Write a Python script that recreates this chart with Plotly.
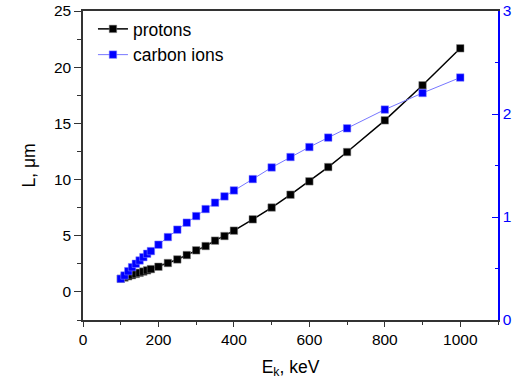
import plotly.graph_objects as go

# Data
energy_p = [100, 110, 120, 130, 140, 150, 160, 170, 180, 200, 225, 250, 275, 300, 325, 350,
            375, 400, 450, 500, 550, 600, 650, 700, 800, 900, 1000]
range_protons = [1.17, 1.28, 1.39, 1.49, 1.60, 1.70, 1.81, 1.92, 2.03, 2.24, 2.57, 2.89, 3.28,
                 3.70, 4.08, 4.56, 4.97, 5.45, 6.46, 7.51, 8.65, 9.84, 11.11, 12.45, 15.27,
                 18.39, 21.68]
energy_c = [100, 110, 120, 130, 140, 150, 160, 170, 180, 200, 225, 250, 275, 300, 325, 350,
            375, 400, 450, 500, 550, 600, 650, 700, 800, 900, 1000]
range_carbon = [0.40, 0.432, 0.474, 0.513, 0.546, 0.578, 0.610, 0.643, 0.669, 0.731, 0.805,
                0.877, 0.945, 1.009, 1.077, 1.139, 1.200, 1.258, 1.368, 1.481, 1.582, 1.679,
                1.771, 1.861, 2.043, 2.204, 2.354]

FONT = "Liberation Sans, Arial, sans-serif"
AX = "#333333"
BLUE = "#0000ff"

fig = go.Figure()
fig.add_trace(go.Scatter(
    x=energy_p, y=range_protons, name="protons", mode="lines+markers",
    line=dict(color="black", width=1.5),
    marker=dict(symbol="square", size=7.5, color="black", line=dict(color="#888888", width=0.5)),
))
fig.add_trace(go.Scatter(
    x=energy_c, y=range_carbon, name="carbon ions", mode="lines+markers", yaxis="y2",
    line=dict(color="#7777ff", width=1),
    marker=dict(symbol="square", size=7.5, color=BLUE, line=dict(color="#8888ff", width=0.5)),
))

fig.update_layout(
    width=526, height=387,
    margin=dict(l=83, r=28, t=11, b=67),
    paper_bgcolor="white", plot_bgcolor="white",
    font=dict(family=FONT, size=15, color="black"),
    showlegend=True,
    legend=dict(x=0.024, y=1.0, xanchor="left", yanchor="top",
                bgcolor="rgba(0,0,0,0)", font=dict(size=17.5, family=FONT),
                tracegroupgap=0),
    xaxis=dict(
        range=[0, 1100], dtick=200, tick0=0, automargin=False,
        showline=True, linecolor=AX, linewidth=1.5, mirror=True,
        ticks="outside", ticklen=5, tickwidth=1.2, tickcolor=AX,
        minor=dict(dtick=100, ticks="outside", ticklen=3, tickcolor=AX, tickwidth=1),
        showgrid=False, zeroline=False,
        title=dict(text="E<sub>k</sub>, keV", font=dict(size=17.5, family=FONT), standoff=13),
        tickfont=dict(size=15.5, family=FONT),
    ),
    yaxis=dict(
        range=[-2.5, 25], dtick=5, tick0=0, automargin=False,
        showline=True, linecolor=AX, linewidth=1.5,
        ticks="outside", ticklen=7, tickwidth=1.2, tickcolor=AX,
        minor=dict(dtick=2.5, ticks="outside", ticklen=4, tickcolor=AX, tickwidth=1),
        showgrid=False, zeroline=False,
        title=dict(text="L, μm", font=dict(size=17.5, family=FONT), standoff=14),
        tickfont=dict(size=15.5, family=FONT),
    ),
    yaxis2=dict(
        overlaying="y", side="right", anchor="x", automargin=False,
        range=[0, 3], dtick=1, tick0=0,
        showline=True, linecolor=BLUE, linewidth=1.5,
        ticks="inside", ticklen=6, tickwidth=1.2, tickcolor=BLUE,
        minor=dict(dtick=0.5, ticks="inside", ticklen=3, tickcolor=BLUE, tickwidth=1),
        showgrid=False, zeroline=False,
        tickfont=dict(size=15.5, family=FONT, color=BLUE),
    ),
)

fig.write_html("out.html",
               config={"displayModeBar": False},
               post_script="document.body.style.margin='0';document.body.style.overflow='hidden';")
